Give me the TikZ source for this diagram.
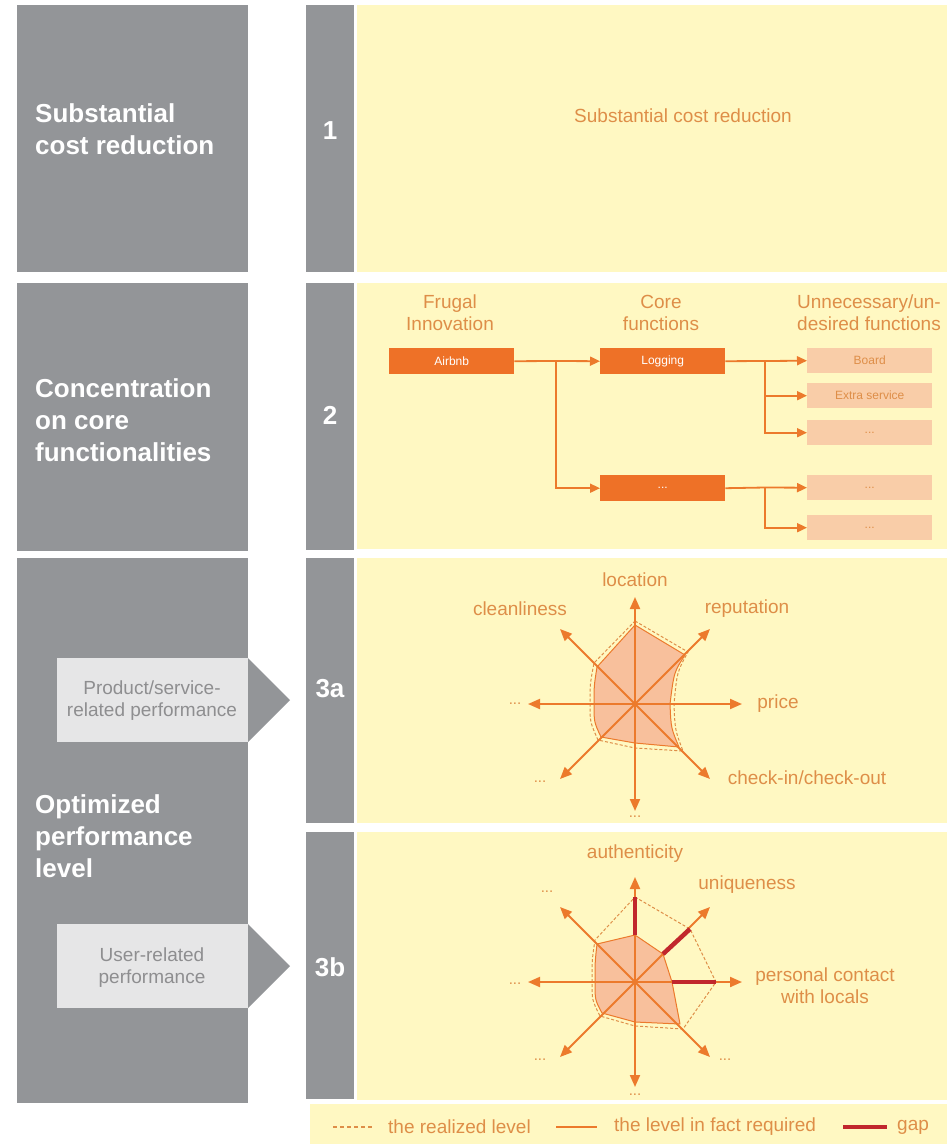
\documentclass[tikz,border=0pt]{standalone}
\usepackage{fontspec}
\setmainfont{Liberation Sans}
\usetikzlibrary{arrows.meta}
\definecolor{grayb}{HTML}{939598}
\definecolor{yel}{HTML}{FFF8C2}
\definecolor{lgray}{HTML}{E6E6E7}
\definecolor{ltext}{HTML}{8E8E90}
\definecolor{otext}{HTML}{DE8E48}
\definecolor{obox}{HTML}{EE7127}
\definecolor{pbox}{HTML}{F9CDA8}
\definecolor{oline}{HTML}{EC7A2C}
\definecolor{rfill}{HTML}{F8C09C}
\definecolor{gapred}{HTML}{C1272D}
\newcommand{\myfs}[2]{\fontsize{#1}{#2}\selectfont}
\begin{document}
\begin{tikzpicture}[x=1pt,y=-1pt,
  bigtxt/.style={text=white,font=\bfseries\myfs{26}{32},align=left,anchor=west,inner sep=0},
  numtxt/.style={text=white,font=\bfseries\myfs{26}{30},inner sep=0},
  otxt/.style={text=otext,font=\myfs{19}{22},inner sep=0,align=center},
  dots/.style={text=otext,font=\myfs{15}{17},inner sep=0},
  ltxt/.style={text=ltext,font=\myfs{19}{22},inner sep=0,align=center},
  fbox/.style={fill=obox,text=white,font=\myfs{12}{14},minimum width=125pt,minimum height=26pt,inner sep=0,anchor=north west},
  ubox/.style={fill=pbox,text=otext,font=\myfs{12}{14},minimum width=125pt,minimum height=25pt,inner sep=0,anchor=north west},
  conn/.style={draw=oline,line width=1.8pt},
  arr/.style={conn,-{Triangle[length=10pt,width=9pt]}},
  axis/.style={draw=oline,line width=2pt,-{Triangle[length=12pt,width=10pt]}},
  req/.style={fill=rfill,draw=oline,line width=1pt,line join=round},
  real/.style={draw=otext,line width=1pt,dash pattern=on 3pt off 2pt},
  gapl/.style={draw=gapred,line width=4.5pt}
]
\useasboundingbox (0,0) rectangle (947,1144);
\fill[white] (0,0) rectangle (947,1144);
% left gray boxes
\fill[grayb] (17,5) rectangle (248,272);
\fill[grayb] (17,283) rectangle (248,551);
\fill[grayb] (17,558) rectangle (248,1103);
% number column
\fill[grayb] (306,5) rectangle (354,272);
\fill[grayb] (306,283) rectangle (354,550);
\fill[grayb] (306,558) rectangle (354,823);
\fill[grayb] (306,832) rectangle (354,1099);
% yellow panels
\fill[yel] (357,5) rectangle (947,272);
\fill[yel] (357,283) rectangle (947,549);
\fill[yel] (357,558) rectangle (947,823);
\fill[yel] (357,832) rectangle (947,1100);
\fill[yel] (310,1104) rectangle (947,1144);
% left texts
\node[bigtxt] (t1) at (35,129) {Substantial\\cost reduction};
\node[bigtxt] (t2) at (35,420) {Concentration\\on core\\functionalities};
\node[bigtxt] (t3) at (35,836) {Optimized\\performance\\level};
% sub-boxes with arrows
\fill[lgray] (57,658) rectangle (248,742);
\fill[grayb] (248,658) -- (290,700) -- (248,742) -- cycle;
\node[ltxt] (p1) at (152,701) {Product/service-\\related performance};
\fill[lgray] (57,924) rectangle (248,1008);
\fill[grayb] (248,924) -- (290,966) -- (248,1008) -- cycle;
\node[ltxt] (p2) at (152,968) {User-related\\performance};
% numbers
\node[numtxt] (n1) at (330,131) {1};
\node[numtxt] (n2) at (330,415) {2};
\node[numtxt] (n3a) at (330,689) {3a};
\node[numtxt] (n3b) at (330,967) {3b};
% panel 1
\node[otxt] (s1) at (683,116) {Substantial cost reduction};
% panel 2
\node[otxt] (h1) at (450,313) {Frugal\\Innovation};
\node[otxt] (h2) at (661,313) {Core\\functions};
\node[otxt] (h3) at (869,313) {Unnecessary/un-\\desired functions};
\node[fbox] (airbnb) at (389,348) {Airbnb};
\node[fbox] (logging) at (600,348) {Logging};
\node[fbox] (coredots) at (600,475) {...};
\node[ubox] (board) at (807,348) {Board};
\node[ubox] (extra) at (807,383) {Extra service};
\node[ubox] (u3) at (807,420) {...};
\node[ubox] (u4) at (807,475) {...};
\node[ubox] (u5) at (807,515) {...};
\coordinate (j1) at (556,361);
\coordinate (j2) at (765,361);
\coordinate (j3) at (765,487.5);
\draw[conn] (airbnb.east) -- (j1);
\draw[arr] (j1) -- (logging.west);
\draw[arr] (j1) |- (coredots.west);
\draw[conn] (logging.east) -- (j2);
\draw[arr] (j2) -- (board.west);
\draw[arr] (j2) |- (extra.west);
\draw[arr] (j2) |- (u3.west);
\draw[conn] (coredots.east) -- (j3);
\draw[arr] (j3) -- (u4.west);
\draw[arr] (j3) |- (u5.west);
% radar 3a
\coordinate (c1) at (635,704);
\path[req] (635,625) -- (685,655) .. controls (674,672) .. (670,704) .. controls (671,728) .. (679,747) -- (635,743) -- (601,737) .. controls (594,722) .. (594,704) .. controls (594,686) .. (597,667) -- cycle;
\draw[real] (635,621) -- (688,652) .. controls (677,672) .. (674,704) .. controls (675,730) .. (683,751) -- (635,748) -- (598,740) .. controls (590,722) .. (590,704) .. controls (590,684) .. (594,663) -- cycle;
\coordinate (a1n) at (635,597);
\coordinate (a1s) at (635,811);
\coordinate (a1e) at (742,704);
\coordinate (a1w) at (528,704);
\coordinate (a1ne) at (710,629);
\coordinate (a1nw) at (560,629);
\coordinate (a1se) at (710,779);
\coordinate (a1sw) at (560,779);
\foreach \t in {a1n,a1s,a1e,a1w,a1ne,a1nw,a1se,a1sw} \draw[axis] (c1) -- (\t);
\node[otxt] (l1) at (635,580) {location};
\node[otxt] (l2) at (520,609) {cleanliness};
\node[otxt] (l3) at (747,609) {reputation};
\node[otxt] (l4) at (778,704) {price};
\node[otxt] (l5) at (807,778) {check-in/check-out};
\node[dots] (d1) at (515,704) {...};
\node[dots] (d2) at (540,782) {...};
\node[dots] (d3) at (635,817) {...};
% radar 3b
\coordinate (c2) at (635,982);
\path[req] (635,935) -- (663,954) -- (672,982) -- (680,1024) -- (635,1022) -- (602,1013) .. controls (595,1000) .. (595,982) .. controls (595,962) .. (597,944) -- cycle;
\draw[real] (635,897) -- (690,929) -- (716,982) -- (683,1029) -- (635,1026) -- (600,1016) .. controls (592,1000) .. (592,982) .. controls (592,960) .. (595,940) -- cycle;
\coordinate (a2n) at (635,877);
\coordinate (a2s) at (635,1087);
\coordinate (a2e) at (742,982);
\coordinate (a2w) at (528,982);
\coordinate (a2ne) at (710,907);
\coordinate (a2nw) at (560,907);
\coordinate (a2se) at (710,1057);
\coordinate (a2sw) at (560,1057);
\foreach \t in {a2n,a2s,a2e,a2w,a2ne,a2nw,a2se,a2sw} \draw[axis] (c2) -- (\t);
\draw[gapl] (635,935) -- (635,897);
\draw[gapl] (663,954) -- (690,929);
\draw[gapl] (672,982) -- (716,982);
\node[otxt] (m1) at (635,854) {authenticity};
\node[otxt] (m2) at (747,885) {uniqueness};
\node[otxt] (m3) at (825,986) {personal contact\\with locals};
\node[dots] (e1) at (547,892) {...};
\node[dots] (e2) at (515,984) {...};
\node[dots] (e3) at (540,1060) {...};
\node[dots] (e4) at (635,1095) {...};
\node[dots] (e5) at (725,1060) {...};
% legend
\coordinate (q1) at (333,1127);
\coordinate (q2) at (374,1127);
\coordinate (q3) at (556,1127);
\coordinate (q4) at (597,1127);
\coordinate (q5) at (843,1127);
\coordinate (q6) at (887,1127);
\draw[draw=otext,line width=1.5pt,dash pattern=on 4pt off 3pt] (q1) -- (q2);
\draw[draw=oline,line width=1.5pt] (q3) -- (q4);
\draw[gapl] (q5) -- (q6);
\node[otxt,anchor=west] (k1) at (388,1127) {the realized level};
\node[otxt,anchor=west] (k2) at (614,1127) {the level in fact required};
\node[otxt,anchor=west] (k3) at (897,1127) {gap};
\end{tikzpicture}
\end{document}
